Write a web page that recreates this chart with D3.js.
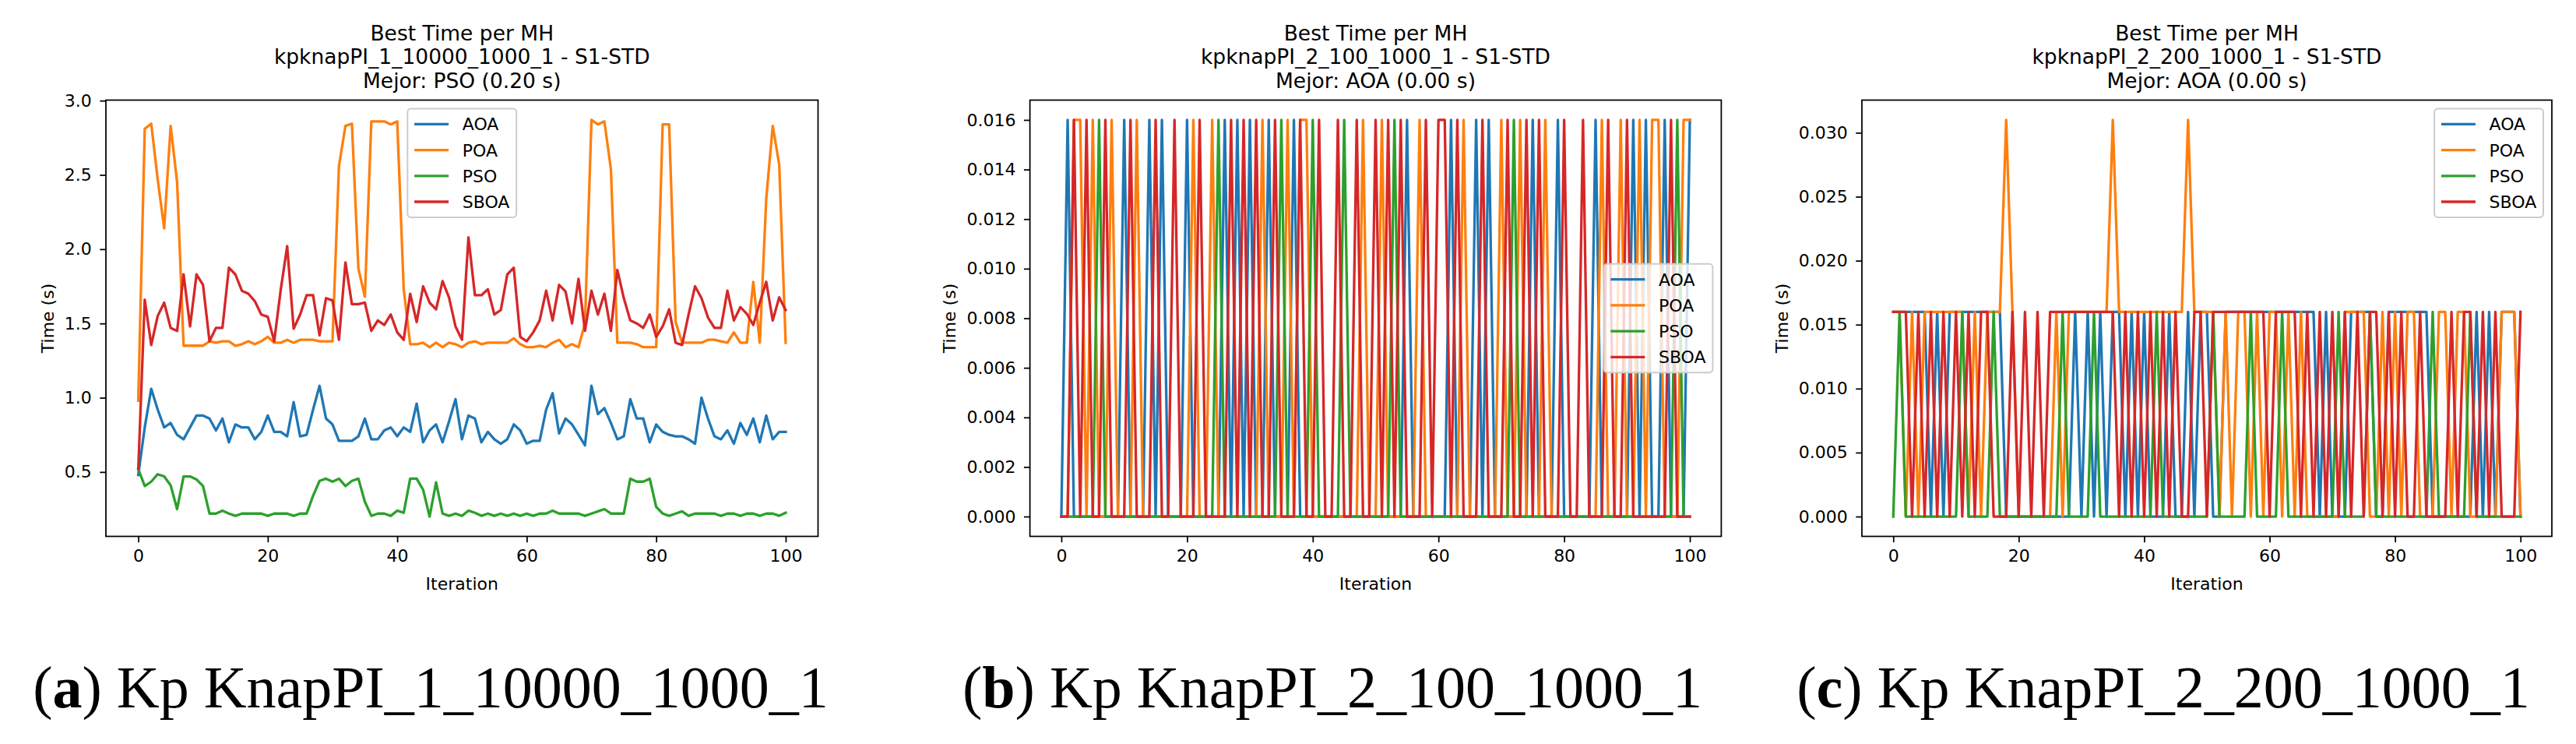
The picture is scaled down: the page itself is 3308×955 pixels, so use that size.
<!DOCTYPE html>
<html><head><meta charset="utf-8">
<script src="https://cdn.jsdelivr.net/npm/d3@7"></script>
<style>html,body{margin:0;padding:0;background:#fff;}svg{display:block;}</style>
</head><body>
<script>
// ---------------- DATA ----------------
const iterations = d3.range(0, 101);
const seriesNames = ["AOA", "POA", "PSO", "SBOA"];
const seriesColors = ["#1f77b4", "#ff7f0e", "#2ca02c", "#d62728"];
const xTicks = [0, 20, 40, 60, 80, 100];
const yTicksA = [0.5, 1.0, 1.5, 2.0, 2.5, 3.0];
const yTicksB = [0, 0.002, 0.004, 0.006, 0.008, 0.010, 0.012, 0.014, 0.016];
const yTicksC = [0, 0.005, 0.010, 0.015, 0.020, 0.025, 0.030];
const titleA = ["Best Time per MH", "kpknapPI_1_10000_1000_1 - S1-STD", "Mejor: PSO (0.20 s)"];
const titleB = ["Best Time per MH", "kpknapPI_2_100_1000_1 - S1-STD", "Mejor: AOA (0.00 s)"];
const titleC = ["Best Time per MH", "kpknapPI_2_200_1000_1 - S1-STD", "Mejor: AOA (0.00 s)"];
const captionLetters = ["a", "b", "c"];
const captionTexts = [" Kp KnapPI_1_10000_1000_1", " Kp KnapPI_2_100_1000_1", " Kp KnapPI_2_200_1000_1"];
const xLabel = "Iteration";
const yLabel = "Time (s)";

// Panel (a)
const aoaA = [0.48,0.80,1.06,0.92,0.80,0.83,0.75,0.72,0.80,0.88,
  0.88,0.86,0.78,0.86,0.70,0.82,0.80,0.80,0.72,0.77,
  0.88,0.77,0.77,0.74,0.97,0.74,0.75,0.92,1.08,0.86,
  0.82,0.71,0.71,0.71,0.74,0.86,0.72,0.72,0.78,0.80,
  0.74,0.80,0.77,0.96,0.70,0.78,0.82,0.70,0.84,0.99,
  0.72,0.88,0.86,0.70,0.77,0.72,0.69,0.72,0.82,0.78,
  0.69,0.71,0.71,0.92,1.03,0.76,0.86,0.82,0.75,0.68,
  1.08,0.89,0.93,0.83,0.72,0.74,0.99,0.86,0.86,0.70,
  0.82,0.77,0.75,0.74,0.74,0.72,0.69,1.00,0.86,0.74,
  0.72,0.78,0.69,0.83,0.75,0.86,0.70,0.88,0.72,0.77,
  0.77];
const poaA = [0.98,2.81,2.845,2.47,2.14,2.83,2.45,1.35,1.35,1.35,
  1.35,1.38,1.37,1.38,1.38,1.35,1.36,1.38,1.36,1.38,
  1.41,1.37,1.37,1.39,1.37,1.39,1.39,1.39,1.38,1.38,
  1.38,2.56,2.83,2.845,1.87,1.68,2.86,2.86,2.86,2.84,
  2.86,1.73,1.36,1.36,1.37,1.34,1.37,1.34,1.37,1.36,
  1.34,1.37,1.38,1.36,1.37,1.37,1.37,1.37,1.40,1.36,
  1.34,1.34,1.35,1.34,1.37,1.39,1.34,1.36,1.34,1.50,
  2.87,2.84,2.86,2.54,1.37,1.37,1.37,1.36,1.34,1.34,
  1.34,2.84,2.84,1.51,1.37,1.37,1.37,1.37,1.39,1.39,
  1.38,1.37,1.44,1.37,1.37,1.78,1.37,2.34,2.83,2.57,
  1.37];
const psoA = [0.52,0.405,0.435,0.485,0.47,0.41,0.25,0.47,0.47,0.45,
  0.405,0.22,0.22,0.24,0.22,0.205,0.22,0.22,0.22,0.22,
  0.205,0.22,0.22,0.22,0.205,0.22,0.22,0.34,0.44,0.455,
  0.435,0.455,0.405,0.44,0.455,0.30,0.205,0.22,0.22,0.205,
  0.24,0.225,0.455,0.455,0.38,0.20,0.43,0.22,0.205,0.22,
  0.205,0.24,0.225,0.205,0.22,0.205,0.22,0.205,0.22,0.205,
  0.22,0.205,0.22,0.22,0.24,0.22,0.22,0.22,0.22,0.205,
  0.22,0.235,0.25,0.22,0.22,0.22,0.455,0.435,0.435,0.455,
  0.265,0.22,0.205,0.22,0.235,0.205,0.22,0.22,0.22,0.22,
  0.205,0.22,0.22,0.205,0.22,0.22,0.205,0.22,0.22,0.205,
  0.225];
const sboaA = [0.52,1.66,1.355,1.55,1.64,1.47,1.45,1.83,1.48,1.83,
  1.76,1.38,1.47,1.47,1.875,1.83,1.72,1.70,1.65,1.56,
  1.545,1.38,1.725,2.02,1.465,1.56,1.69,1.69,1.42,1.67,
  1.655,1.39,1.91,1.63,1.63,1.64,1.45,1.52,1.49,1.56,
  1.44,1.39,1.70,1.51,1.75,1.64,1.595,1.785,1.675,1.48,
  1.39,2.08,1.69,1.69,1.73,1.56,1.59,1.83,1.875,1.41,
  1.38,1.44,1.52,1.72,1.52,1.76,1.715,1.50,1.80,1.45,
  1.72,1.56,1.70,1.45,1.86,1.67,1.52,1.50,1.47,1.56,
  1.41,1.48,1.595,1.37,1.355,1.56,1.75,1.67,1.54,1.47,
  1.47,1.72,1.52,1.61,1.565,1.49,1.64,1.78,1.52,1.675,
  1.59];

// Panel (b)
const aoaB = [0,0.016,0,0,0,0,0,0,0,0,
  0.016,0,0,0,0.016,0,0.016,0,0,0,
  0.016,0,0,0,0,0,0.016,0,0.016,0,
  0.016,0,0,0.016,0,0,0,0.016,0,0,
  0,0,0,0,0,0,0,0,0,0,
  0,0,0,0,0,0.016,0,0,0,0,
  0,0,0.016,0,0,0,0.016,0,0.016,0,
  0,0,0,0,0,0.016,0,0,0,0.016,
  0,0,0,0,0,0.016,0,0,0,0,
  0,0.016,0,0.016,0,0,0.016,0,0,0,
  0.016];
const poaB = [0,0,0.016,0.016,0,0.016,0,0,0.016,0,
  0,0,0.016,0,0,0,0,0,0,0,
  0,0.016,0,0,0.016,0,0,0,0,0,
  0,0,0.016,0,0,0,0.016,0,0.016,0.016,
  0,0,0,0,0,0,0,0,0.016,0,
  0,0.016,0,0,0,0,0,0.016,0,0,
  0,0,0,0,0.016,0,0,0,0,0,
  0.016,0,0,0.016,0,0,0,0.016,0,0,
  0,0,0,0,0,0,0.016,0,0,0.016,
  0,0,0.016,0,0.016,0.016,0,0,0,0.016,
  0.016];
const psoB = [0,0,0,0,0,0,0.016,0,0,0,
  0,0,0,0,0,0,0,0,0,0,
  0,0,0,0,0,0.016,0,0,0,0,
  0,0,0,0,0,0.016,0,0,0,0,
  0.016,0,0,0,0,0.016,0,0,0,0,
  0,0,0,0.016,0,0,0,0,0,0,
  0,0,0,0,0,0,0,0,0,0,
  0,0,0.016,0,0,0,0,0,0,0,
  0,0,0,0,0,0,0,0,0,0,
  0,0,0,0,0,0,0,0,0.016,0,
  0];
const sboaB = [0,0,0.016,0,0.016,0,0,0.016,0,0,
  0,0.016,0,0,0,0.016,0,0,0.016,0,
  0,0,0.016,0,0,0,0,0.016,0,0.016,
  0,0.016,0,0,0.016,0,0,0,0.016,0,
  0,0.016,0,0,0.016,0,0,0.016,0,0,
  0.016,0,0.016,0,0.016,0,0,0,0.016,0,
  0.016,0.016,0,0.016,0,0,0,0.016,0,0,
  0,0.016,0,0,0.016,0,0.016,0,0,0,
  0.016,0,0,0.016,0,0,0,0.016,0,0,
  0.016,0,0,0,0,0,0,0.016,0,0,
  0];

// Panel (c)
const aoaC = [0.016,0.016,0.016,0.016,0.016,0.016,0,0.016,0,0.016,
  0.016,0.016,0.016,0.016,0.016,0.016,0.016,0.016,0,0,
  0,0,0,0,0,0,0,0,0,0.016,
  0,0.016,0,0.016,0,0.016,0.016,0,0.016,0,
  0.016,0,0,0,0.016,0,0,0.016,0,0.016,
  0.016,0,0,0.016,0.016,0.016,0.016,0.016,0.016,0.016,
  0.016,0.016,0.016,0.016,0.016,0.016,0.016,0.016,0,0.016,
  0,0,0,0.016,0.016,0.016,0.016,0,0,0.016,
  0.016,0.016,0.016,0.016,0.016,0.016,0,0,0,0,
  0,0,0,0.016,0,0.016,0,0.016,0.016,0.016,
  0];
const poaC = [0.016,0.016,0,0.016,0,0.016,0.016,0.016,0.016,0.016,
  0.016,0.016,0,0.016,0,0.016,0.016,0.016,0.031,0.016,
  0,0,0,0,0,0,0.016,0,0.016,0.016,
  0.016,0.016,0.016,0.016,0.016,0.031,0.016,0.016,0.016,0.016,
  0.016,0.016,0.016,0.016,0.016,0.016,0.016,0.031,0.016,0.016,
  0.016,0.016,0,0.016,0,0.016,0.016,0,0.016,0,
  0.016,0.016,0,0.016,0,0.016,0,0,0,0,
  0,0,0.016,0.016,0.016,0.016,0,0,0.016,0,
  0.016,0,0.016,0.016,0,0,0,0.016,0.016,0,
  0.016,0.016,0,0,0,0,0,0.016,0.016,0.016,
  0];
const psoC = [0,0.016,0,0,0,0,0,0,0,0,
  0,0.016,0,0,0,0,0.016,0,0,0,
  0,0,0,0,0,0,0,0.016,0,0,
  0,0,0.016,0,0,0,0,0,0,0,
  0,0,0.016,0,0,0,0,0,0,0,
  0,0.016,0,0,0,0,0,0.016,0,0,
  0,0,0.016,0,0,0,0,0,0,0,
  0,0.016,0,0,0,0,0.016,0,0,0,
  0,0,0,0,0,0,0.016,0,0,0,
  0,0,0.016,0,0,0,0,0,0,0,
  0];
const sboaC = [0.016,0.016,0.016,0,0.016,0,0.016,0,0.016,0,
  0.016,0,0.016,0,0.016,0.016,0,0,0,0.016,
  0,0.016,0,0.016,0,0.016,0.016,0.016,0.016,0.016,
  0.016,0.016,0.016,0.016,0.016,0.016,0,0.016,0,0.016,
  0,0.016,0,0.016,0,0.016,0,0,0.016,0.016,
  0,0.016,0.016,0.016,0.016,0.016,0.016,0.016,0.016,0.016,
  0,0.016,0.016,0.016,0.016,0,0.016,0,0.016,0,
  0.016,0,0.016,0,0.016,0,0.016,0.016,0,0.016,
  0,0.016,0,0,0.016,0,0,0,0,0.016,
  0,0.016,0.016,0,0.016,0,0.016,0,0,0,
  0.016];

// ---------------- DRAWING ----------------
const W = 3308, H = 955;
const PX = 2.2;                 // px per pt
const FONT = "'DejaVu Sans', Verdana, sans-serif";
const TICK_FS = 10 * PX;
const LW = 1.5 * PX, SPINE = 0.8 * PX, TICKLEN = 3.5 * PX, TICKPAD = 9;

const svg = d3.select("body").append("svg")
  .attr("width", W).attr("height", H).attr("viewBox", `0 0 ${W} ${H}`);
svg.append("rect").attr("width", W).attr("height", H).attr("fill", "#fff");

function drawPanel(p) {
  const g = svg.append("g");
  const xExt = d3.extent(iterations), xPad = (xExt[1] - xExt[0]) * 0.05;
  const x = d3.scaleLinear().domain([xExt[0] - xPad, xExt[1] + xPad]).range([p.left, p.right]);
  const all = p.values.flat();
  const yExt = d3.extent(all), yPad = (yExt[1] - yExt[0]) * 0.05;
  const y = d3.scaleLinear().domain([yExt[0] - yPad, yExt[1] + yPad]).range([p.bottom, p.top]);

  const line = d3.line().x((d, i) => x(iterations[i])).y(d => y(d));
  p.values.forEach((vals, k) => {
    g.append("path").attr("d", line(vals)).attr("fill", "none")
      .attr("stroke", seriesColors[k]).attr("stroke-width", LW)
      .attr("stroke-linejoin", "round").attr("stroke-linecap", "square");
  });

  // axes
  const xa = g.append("g").attr("transform", `translate(0,${p.bottom})`)
    .call(d3.axisBottom(x).tickValues(xTicks).tickFormat(d3.format("d"))
      .tickSize(TICKLEN).tickPadding(TICKPAD).tickSizeOuter(0));
  const ya = g.append("g").attr("transform", `translate(${p.left},0)`)
    .call(d3.axisLeft(y).tickValues(p.yTicks).tickFormat(d3.format(p.yFmt))
      .tickSize(TICKLEN).tickPadding(TICKPAD + 1.5).tickSizeOuter(0));
  [xa, ya].forEach(a => {
    a.select(".domain").remove();
    a.attr("font-size", TICK_FS).attr("font-family", FONT);
    a.selectAll("line").attr("stroke", "#000").attr("stroke-width", SPINE);
    a.selectAll("text").attr("fill", "#000");
  });

  // frame
  g.append("rect").attr("x", p.left).attr("y", p.top)
    .attr("width", p.right - p.left).attr("height", p.bottom - p.top)
    .attr("fill", "none").attr("stroke", "#000").attr("stroke-width", SPINE);

  // labels
  const cx = (p.left + p.right) / 2, cy = (p.top + p.bottom) / 2;
  g.append("text").attr("x", cx).attr("y", p.bottom + 68)
    .attr("text-anchor", "middle").attr("font-family", FONT).attr("font-size", TICK_FS)
    .text(xLabel);
  const yb = ya.node().getBBox();
  const lx = p.left + yb.x - 4 * PX - 5.2;
  g.append("text").attr("transform", `translate(${lx},${cy}) rotate(-90)`)
    .attr("text-anchor", "middle").attr("font-family", FONT).attr("font-size", TICK_FS)
    .text(yLabel);

  // title
  p.title.forEach((t, i) => {
    g.append("text").attr("x", cx).attr("y", 51.5 + i * 30.5)
      .attr("text-anchor", "middle").attr("font-family", FONT).attr("font-size", 26.5)
      .text(t);
  });

  // legend
  const lg = g.append("g");
  const frame = lg.append("rect");
  const texts = seriesNames.map(n => lg.append("text").attr("font-family", FONT)
    .attr("font-size", TICK_FS).text(n));
  const maxW = d3.max(texts, t => t.node().getComputedTextLength());
  const bp = 0.4 * TICK_FS, hl = 2 * TICK_FS, htp = 0.8 * TICK_FS;
  const lw = bp + hl + htp + maxW + bp;
  const rowGap = 33.2, lh = 2 * bp + 3 * rowGap + 22.2;
  let L, T;
  if (p.legend === "upper center") { L = cx - lw / 2; T = p.top + 0.5 * TICK_FS; }
  else if (p.legend === "upper right") { L = p.right - 0.5 * TICK_FS - lw; T = p.top + 0.5 * TICK_FS; }
  else { L = p.right - 0.5 * TICK_FS - lw; T = cy - lh / 2; }
  frame.attr("x", L).attr("y", T).attr("width", lw).attr("height", lh)
    .attr("rx", 4.4).attr("fill", "#fff").attr("fill-opacity", 0.8)
    .attr("stroke", "#cccccc").attr("stroke-width", 2);
  texts.forEach((t, k) => {
    const ry = T + bp + 11.1 + k * rowGap;
    lg.append("line").attr("x1", L + bp).attr("x2", L + bp + hl)
      .attr("y1", ry).attr("y2", ry).attr("stroke", seriesColors[k]).attr("stroke-width", LW);
    t.attr("x", L + bp + hl + htp).attr("y", ry + 8);
    t.raise();
  });
}

drawPanel({left: 136, right: 1050.5, top: 128.5, bottom: 688.5,
  values: [aoaA, poaA, psoA, sboaA], yTicks: yTicksA, yFmt: ".1f",
  title: titleA, legend: "upper center"});
drawPanel({left: 1322.6, right: 2210.4, top: 128.5, bottom: 688.5,
  values: [aoaB, poaB, psoB, sboaB], yTicks: yTicksB, yFmt: ".3f",
  title: titleB, legend: "center right"});
drawPanel({left: 2391, right: 3277, top: 128.5, bottom: 688.5,
  values: [aoaC, poaC, psoC, sboaC], yTicks: yTicksC, yFmt: ".3f",
  title: titleC, legend: "upper right"});

// captions
const capCenters = [553, 1711, 2778];
captionLetters.forEach((l, i) => {
  const t = svg.append("text").attr("x", capCenters[i]).attr("y", 908)
    .attr("text-anchor", "middle").attr("font-family", "'Liberation Serif', 'Times New Roman', serif")
    .attr("font-size", 76).attr("fill", "#000");
  t.append("tspan").text("(");
  t.append("tspan").attr("font-weight", "bold").text(l);
  t.append("tspan").text(")" + captionTexts[i]);
});
</script>
</body></html>
